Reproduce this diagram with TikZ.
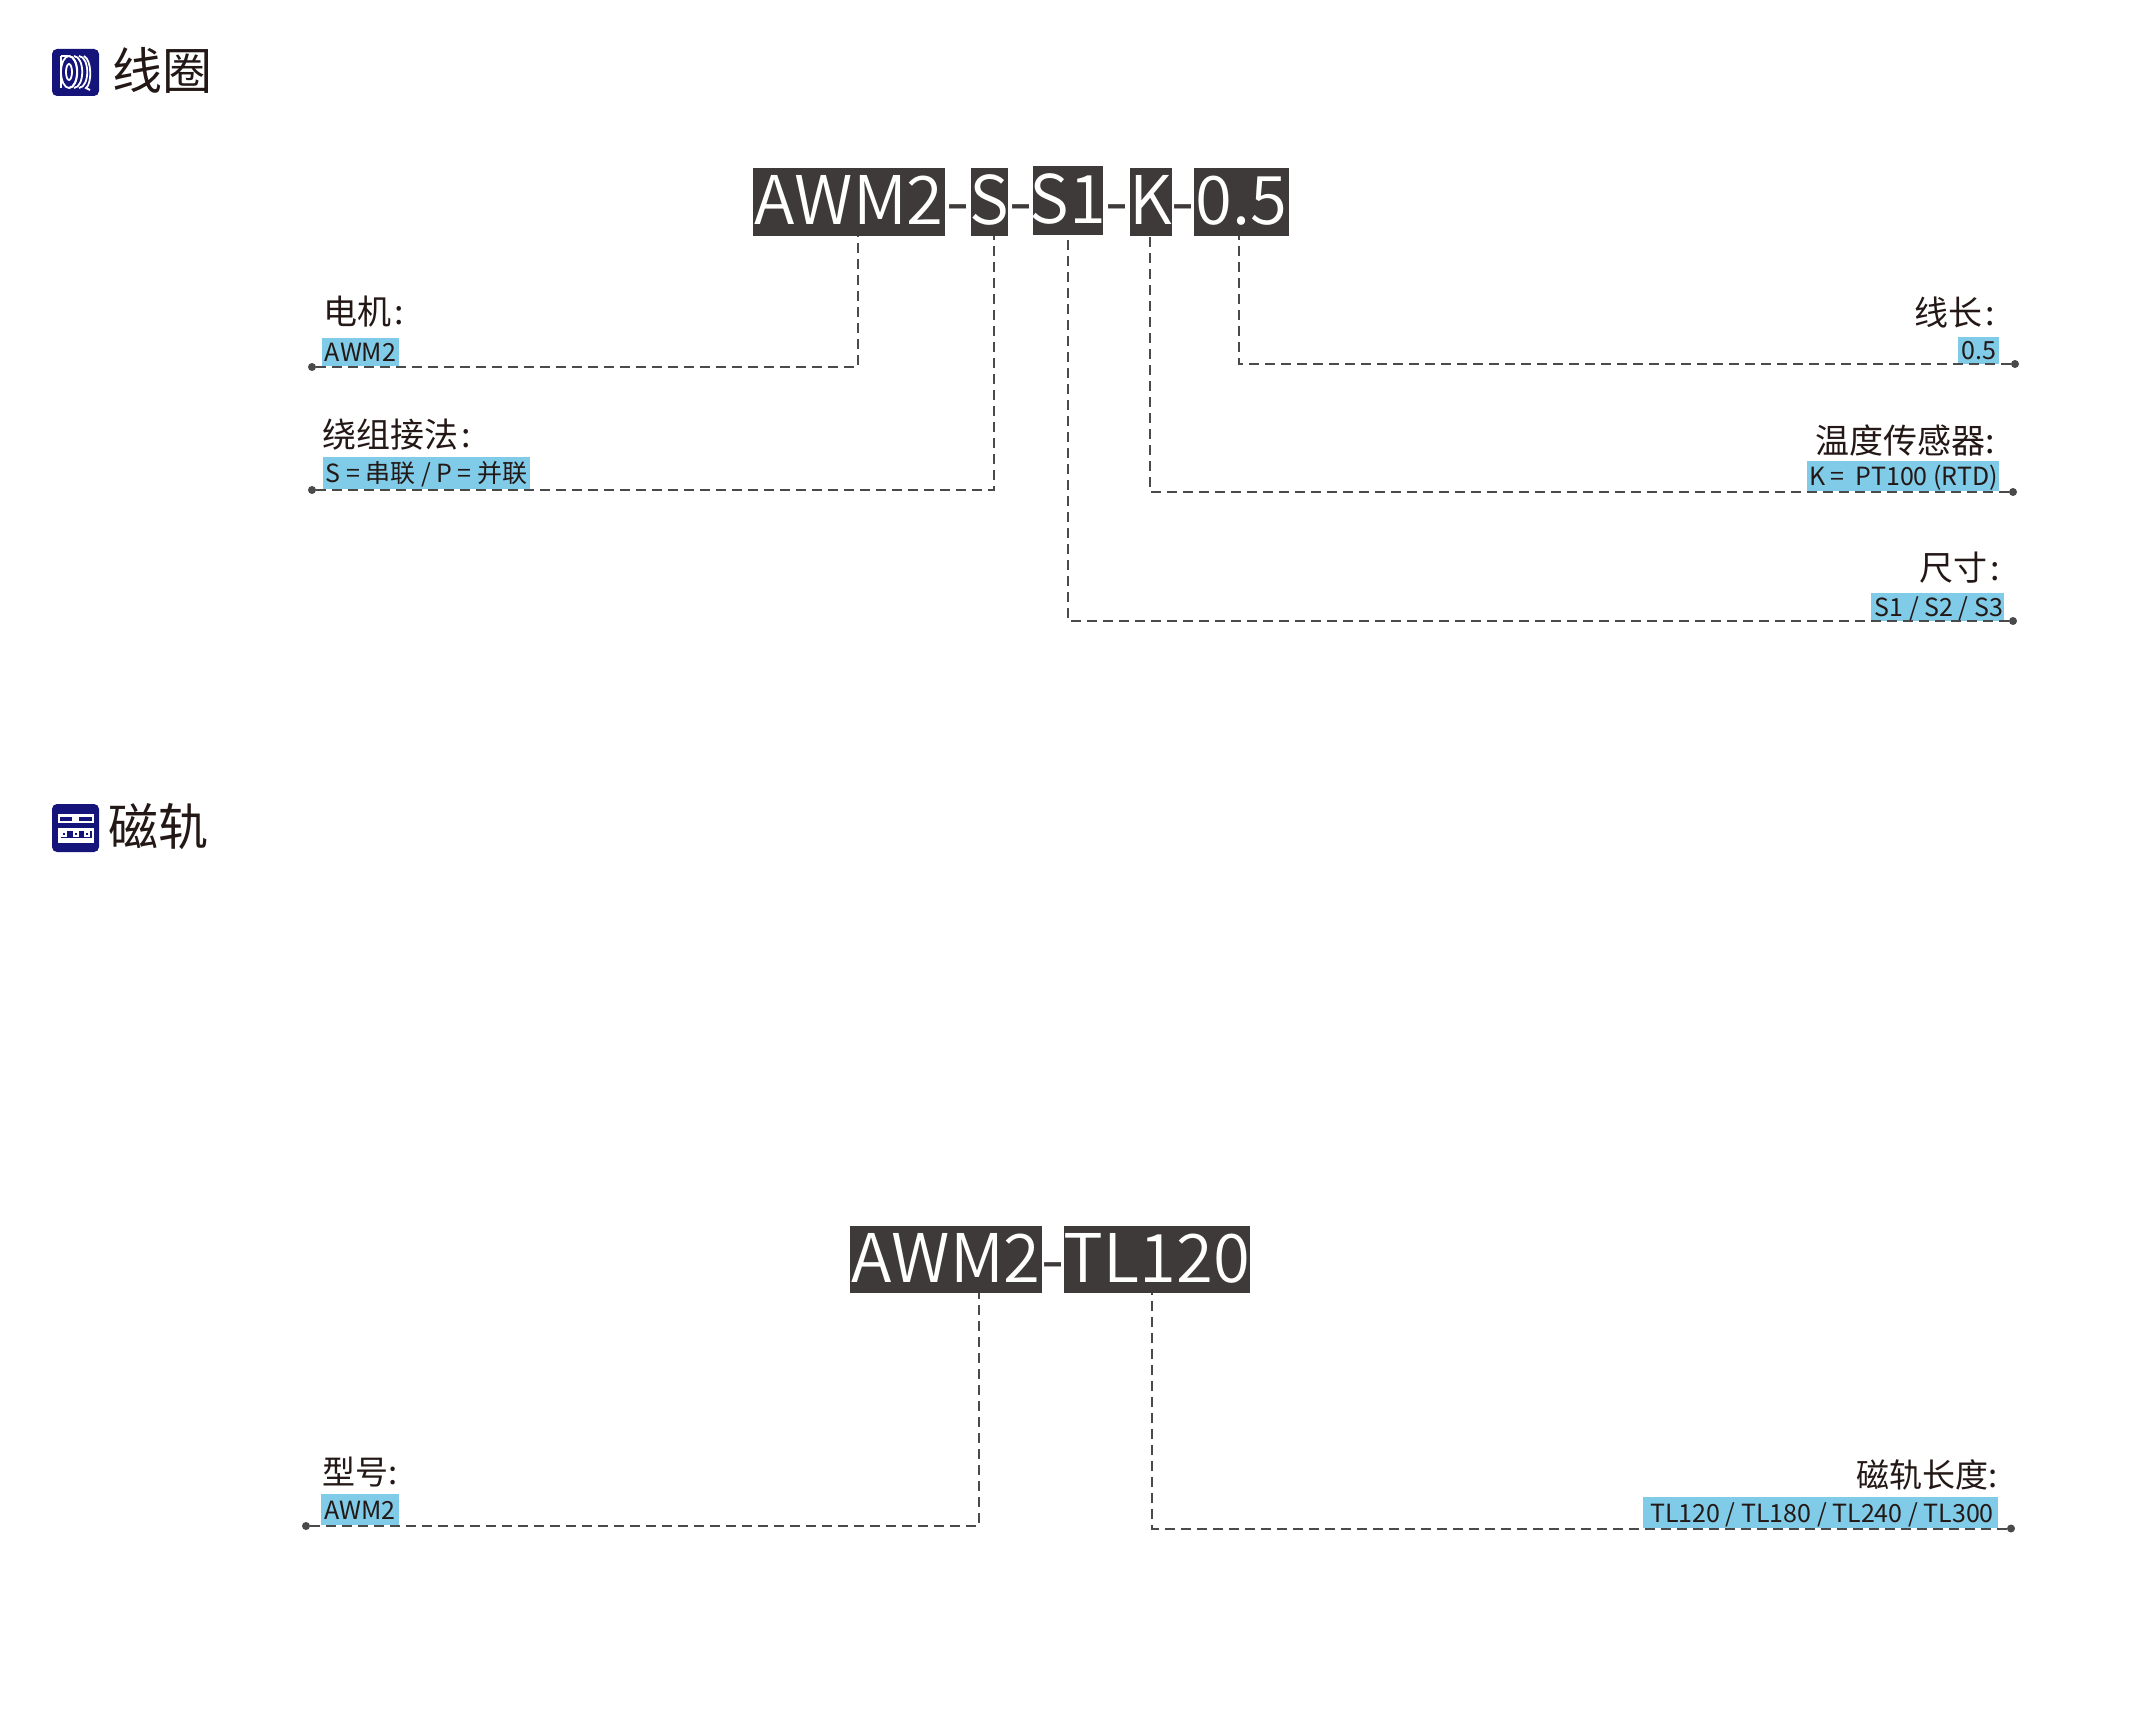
\documentclass[tikz,border=0pt]{standalone}
\usepackage{fontspec}
\setmainfont{Noto Sans CJK SC}
\newfontfamily\lightf{Noto Sans CJK SC DemiLight}
\definecolor{dk}{HTML}{3E3A39}
\definecolor{ink}{HTML}{231815}
\definecolor{chipc}{HTML}{7FCBE8}
\definecolor{navy}{HTML}{14147A}
\definecolor{lead}{HTML}{4A4A4A}
\tikzset{
 code/.style={fill=dk,text=white,inner sep=0pt,font=\lightf\fontsize{67}{67}\selectfont,text height=49pt,text depth=3pt},
 hy/.style={text=dk,inner sep=0pt,font=\lightf\fontsize{67}{67}\selectfont},
 chip/.style={fill=chipc,text=ink,inner sep=0pt,font=\fontsize{25}{25}\selectfont,text height=19pt,text depth=0pt},
 lab/.style={text=ink,inner sep=0pt,font=\fontsize{34}{34}\selectfont},
 labb/.style={text=ink,inner sep=0pt,font=\fontsize{33}{33}\selectfont},
 ttl/.style={text=ink,inner sep=0pt,anchor=west,font=\fontsize{50}{50}\selectfont},
 leadline/.style={draw=lead,line width=2pt,dash pattern=on 10pt off 6pt},
 enddot/.style={circle,fill=lead,inner sep=0pt,minimum size=8pt},
 ico/.style={fill=navy,rounded corners=5pt},
 icw/.style={draw=white,line width=1.8pt}
}
\begin{document}
\begin{tikzpicture}[x=1pt,y=-1pt]
\useasboundingbox (0,0) rectangle (2132,1728);
% section 1 title + icon
\fill[ico] (52,49) rectangle (99,96);
\draw[icw] (61,56) -- (61,88) (61,56) -- (68,56);
\draw[icw] (69,72) ellipse [x radius=8,y radius=16];
\draw[icw] (69,72) ellipse [x radius=3,y radius=8];
\draw[icw] (69,56) .. controls (80,57) and (80,87) .. (69,88);
\draw[icw] (74,56) .. controls (85,57) and (85,87) .. (74,88);
\draw[icw] (79,56) .. controls (90,57) and (90,87) .. (79,88);
\draw[icw] (84,56) .. controls (92,60) and (92,84) .. (86,88) -- (90,90);
\node[ttl] (t1) at (112,70) {线圈};
% section 2 title + icon
\fill[ico] (52,804) rectangle (99,852);
\fill[white] (58,814) rectangle (94,823);
\fill[navy] (60,816.5) rectangle (92,821);
\fill[white] (72,817) rectangle (79,821);
\fill[white] (58,827.5) rectangle (94,842.5);
\fill[navy] (60.5,831) rectangle (91.5,838);
\foreach \q in {64,76,87}{\fill[white] (\q-3,831) rectangle (\q+3,836.5); \fill[navy] (\q-1.2,832.5) rectangle (\q+1.2,835);}
\node[ttl] (t2) at (108,827) {磁轨};
% top code
\node[code,minimum width=192pt,minimum height=68pt] (bA) at (849,202) {AWM2};
\node[code,minimum width=37pt,minimum height=68pt] (bS) at (989.5,202) {\makebox[37pt][c]{S}};
\node[code,minimum width=70pt,minimum height=69pt] (bT) at (1068,200.5) {\makebox[70pt][c]{S1}};
\node[code,minimum width=42pt,minimum height=68pt] (bK) at (1151,202) {\makebox[42pt][c]{K}};
\node[code,minimum width=95pt,minimum height=68pt] (bL) at (1241.5,202) {0.5};
\node[hy] (h1) at (958,215) {\makebox[18pt][c]{-}};
\node[hy] (h2) at (1020.5,215) {\makebox[18pt][c]{-}};
\node[hy] (h3) at (1116.5,215) {\makebox[18pt][c]{-}};
\node[hy] (h4) at (1183,215) {\makebox[18pt][c]{-}};
% top labels
\node[lab,anchor=west] (l1) at (323,312) {电机\hspace{3pt}:};
\node[chip,minimum width=77pt,minimum height=28pt] (c1) at (360.5,352) {AWM2};
\node[lab,anchor=west] (l2) at (322,435) {绕组接法\hspace{3pt}:};
\node[chip,minimum width=207pt,minimum height=32pt] (c2) at (426,473) {\hspace{1pt}S = 串联 / P = 并联};
\node[lab,anchor=east] (l3) at (1995,312) {线长\hspace{3pt}:};
\node[chip,minimum width=41pt,minimum height=27pt] (c3) at (1978.5,350) {0.5};
\node[lab,anchor=east] (l4) at (1995,440) {温度传感器:};
\node[chip,minimum width=192pt,minimum height=30pt] (c4) at (1903,476) {\hspace{1pt}K =\ \ PT100 (RTD)};
\node[lab,anchor=east] (l5) at (2000,568) {尺寸\hspace{3pt}:};
\node[chip,minimum width=133pt,minimum height=28pt] (c5) at (1937.5,607) {\hspace{3pt}S1 / S2 / S3};
% dots
\node[enddot] (dA) at (312,367) {};
\node[enddot] (dS) at (312,490) {};
\node[enddot] (dL) at (2015,364) {};
\node[enddot] (dK) at (2013,492) {};
\node[enddot] (dT) at (2013,621) {};
\coordinate (eA) at (858,367);
\coordinate (eS) at (994,490);
\coordinate (eL) at (1239,364);
\coordinate (eK) at (1150,492);
\coordinate (eT) at (1068,621);
\draw[leadline] (dA) -- (eA) -- (eA |- bA.south);
\draw[leadline] (dS) -- (eS) -- (eS |- bS.south);
\draw[leadline] (dL) -- (eL) -- (eL |- bL.south);
\draw[leadline] (dK) -- (eK) -- (eK |- bK.south);
\draw[leadline] (dT) -- (eT) -- (eT |- bT.south);
% bottom code
\node[code,minimum width=192pt,minimum height=67pt] (bM) at (946,1259.5) {AWM2};
\node[code,minimum width=186pt,minimum height=67pt] (bR) at (1157,1259.5) {\makebox[186pt][c]{TL120}};
\node[hy] (h5) at (1053,1273) {\makebox[18pt][c]{-}};
\node[labb,anchor=west] (l6) at (322,1472) {型号:};
\node[chip,minimum width=78pt,minimum height=31pt] (c6) at (360,1509.5) {AWM2};
\node[labb,anchor=east] (l7) at (1998,1475) {磁轨长度:};
\node[chip,minimum width=355pt,minimum height=31pt] (c7) at (1820.5,1512.5) {\hspace{3pt}TL120 / TL180 / TL240 / TL300};
\node[enddot] (dM) at (306,1526) {};
\node[enddot] (dR) at (2011,1528.5) {};
\coordinate (eM) at (979,1526);
\coordinate (eR) at (1152,1528.5);
\draw[leadline] (dM) -- (eM) -- (eM |- bM.south);
\draw[leadline] (dR) -- (eR) -- (eR |- bR.south);
\end{tikzpicture}
\end{document}
